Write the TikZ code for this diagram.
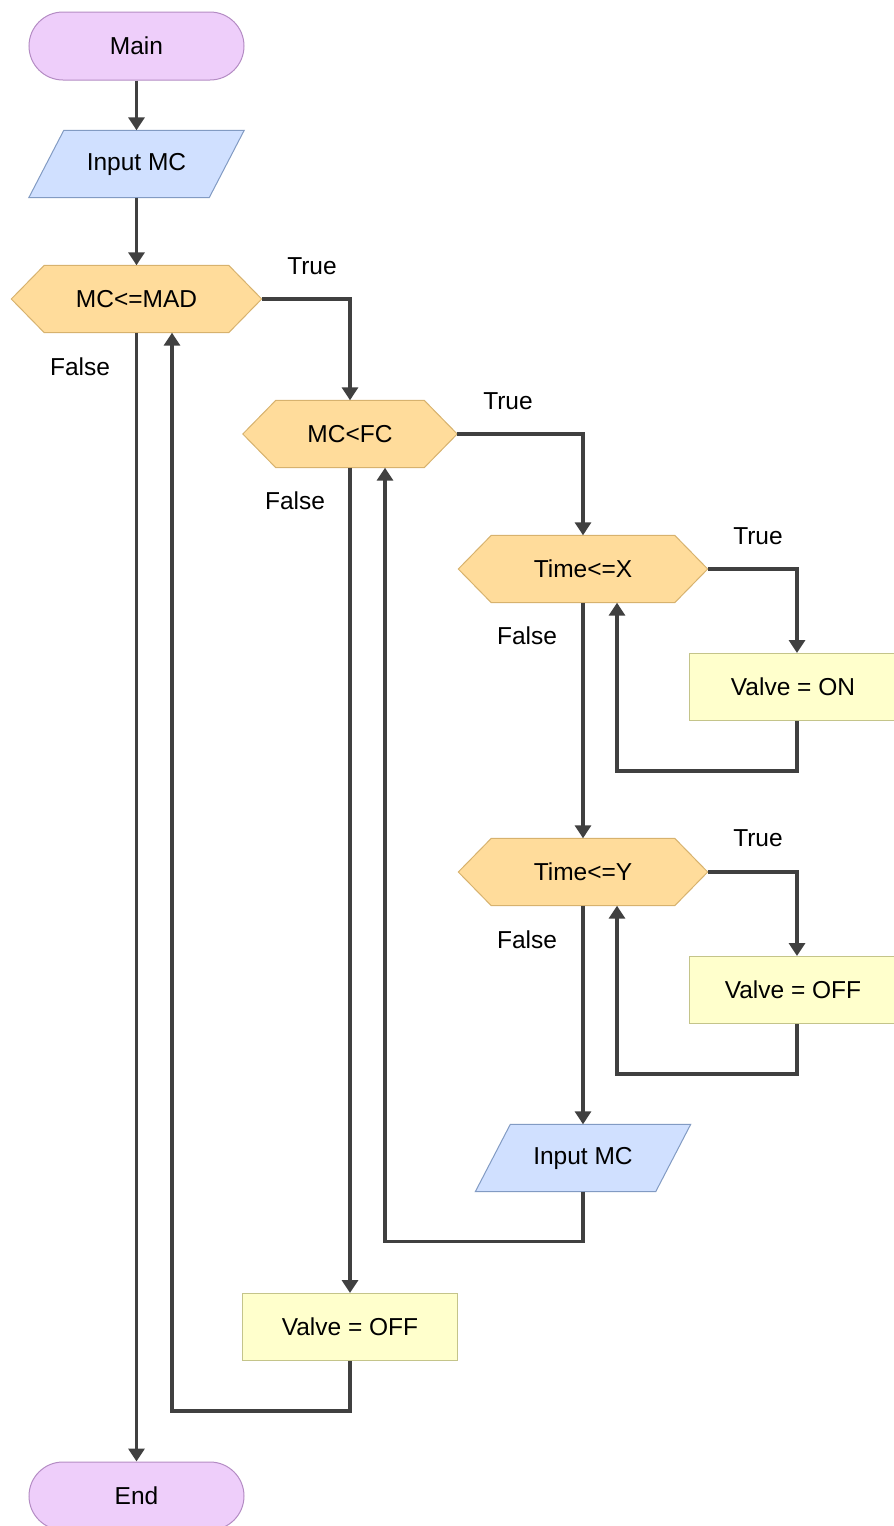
\documentclass[tikz,border=0pt]{standalone}
\usepackage{fontspec}
\setmainfont{Liberation Sans}
\usetikzlibrary{arrows.meta,backgrounds,calc}
\definecolor{termfill}{RGB}{238,206,250}
\definecolor{termdraw}{RGB}{180,140,196}
\definecolor{parafill}{RGB}{208,224,255}
\definecolor{paradraw}{RGB}{130,155,195}
\definecolor{hexfill}{RGB}{255,220,155}
\definecolor{hexdraw}{RGB}{215,178,110}
\definecolor{rectfill}{RGB}{255,255,204}
\definecolor{rectdraw}{RGB}{196,196,138}
\definecolor{linec}{RGB}{64,64,64}
\begin{document}
\begin{tikzpicture}[x=1pt,y=-1pt,
  font=\fontsize{24.5}{28}\selectfont,
  term/.style={rectangle,rounded corners=34pt,draw=termdraw,fill=termfill,line width=1pt,minimum width=215pt,minimum height=68pt,inner sep=0pt},
  para/.style={rectangle,minimum width=180pt,minimum height=67pt,inner sep=0pt},
  hex/.style={rectangle,minimum height=67pt,inner sep=0pt},
  proc/.style={rectangle,draw=rectdraw,fill=rectfill,line width=1pt,minimum width=215pt,minimum height=67pt,inner sep=0pt},
  lbl/.style={inner sep=0pt},
  line/.style={draw=linec,line width=3.5pt,-{Triangle[width=16pt,length=13pt]}},
  hexshape/.style={draw=hexdraw,fill=hexfill,line width=1pt},
  parashape/.style={draw=paradraw,fill=parafill,line width=1pt}]
\useasboundingbox (0,0) rectangle (894,1526);

\node[term] (main) at (136.5,46) {Main};
\node[para] (in1) at (136.5,164) {Input MC};
\node[hex,minimum width=250pt] (d1) at (136.5,299) {MC<=MAD};
\node[hex,minimum width=214pt] (d2) at (350,434) {MC<FC};
\node[hex,minimum width=249pt] (d3) at (583,569) {Time<=X};
\node[proc] (on) at (797,687) {\hspace*{-8pt}Valve = ON};
\node[hex,minimum width=249pt] (d4) at (583,872) {Time<=Y};
\node[proc] (off1) at (797,990) {\hspace*{-8pt}Valve = OFF};
\node[para] (in2) at (583,1158) {Input MC};
\node[proc] (off2) at (350,1327) {Valve = OFF};
\node[term] (end) at (136.5,1496) {End};

\begin{scope}[on background layer]
\foreach \n in {d1,d2,d3,d4}{
  \path[hexshape] (\n.west) -- ($(\n.north west)+(33,0)$) -- ($(\n.north east)+(-33,0)$) -- (\n.east) -- ($(\n.south east)+(-33,0)$) -- ($(\n.south west)+(33,0)$) -- cycle;
}
\foreach \n in {in1,in2}{
  \path[parashape] ($(\n.north west)+(17.5,0)$) -- ($(\n.north east)+(17.5,0)$) -- ($(\n.south east)+(-17.5,0)$) -- ($(\n.south west)+(-17.5,0)$) -- cycle;
}
\end{scope}

\node[lbl] (t1) at (312,266) {True};
\node[lbl] (f1) at (80,367) {False};
\node[lbl] (t2) at (508,401) {True};
\node[lbl] (f2) at (295,501) {False};
\node[lbl] (t3) at (758,536) {True};
\node[lbl] (f3) at (527,636) {False};
\node[lbl] (t4) at (758,838) {True};
\node[lbl] (f4) at (527,940) {False};

\draw[line] (main.south) -- (in1.north);
\draw[line] (in1.south) -- (d1.north);
\draw[line] (d1.east) -| (d2.north);
\draw[line] (d2.east) -| (d3.north);
\draw[line] (d3.east) -| (on.north);
\draw[line] (on.south) -- ++(0,50) -| ([xshift=34pt]d3.south);
\draw[line] (d3.south) -- (d4.north);
\draw[line] (d4.east) -| (off1.north);
\draw[line] (off1.south) -- ++(0,50) -| ([xshift=34pt]d4.south);
\draw[line] (d4.south) -- (in2.north);
\draw[line] (in2.south) -- ++(0,50) -| ([xshift=35pt]d2.south);
\draw[line] (d2.south) -- (off2.north);
\draw[line] (off2.south) -- ++(0,50) -| ([xshift=35.5pt]d1.south);
\draw[line] (d1.south) -- (end.north);
\end{tikzpicture}
\end{document}
